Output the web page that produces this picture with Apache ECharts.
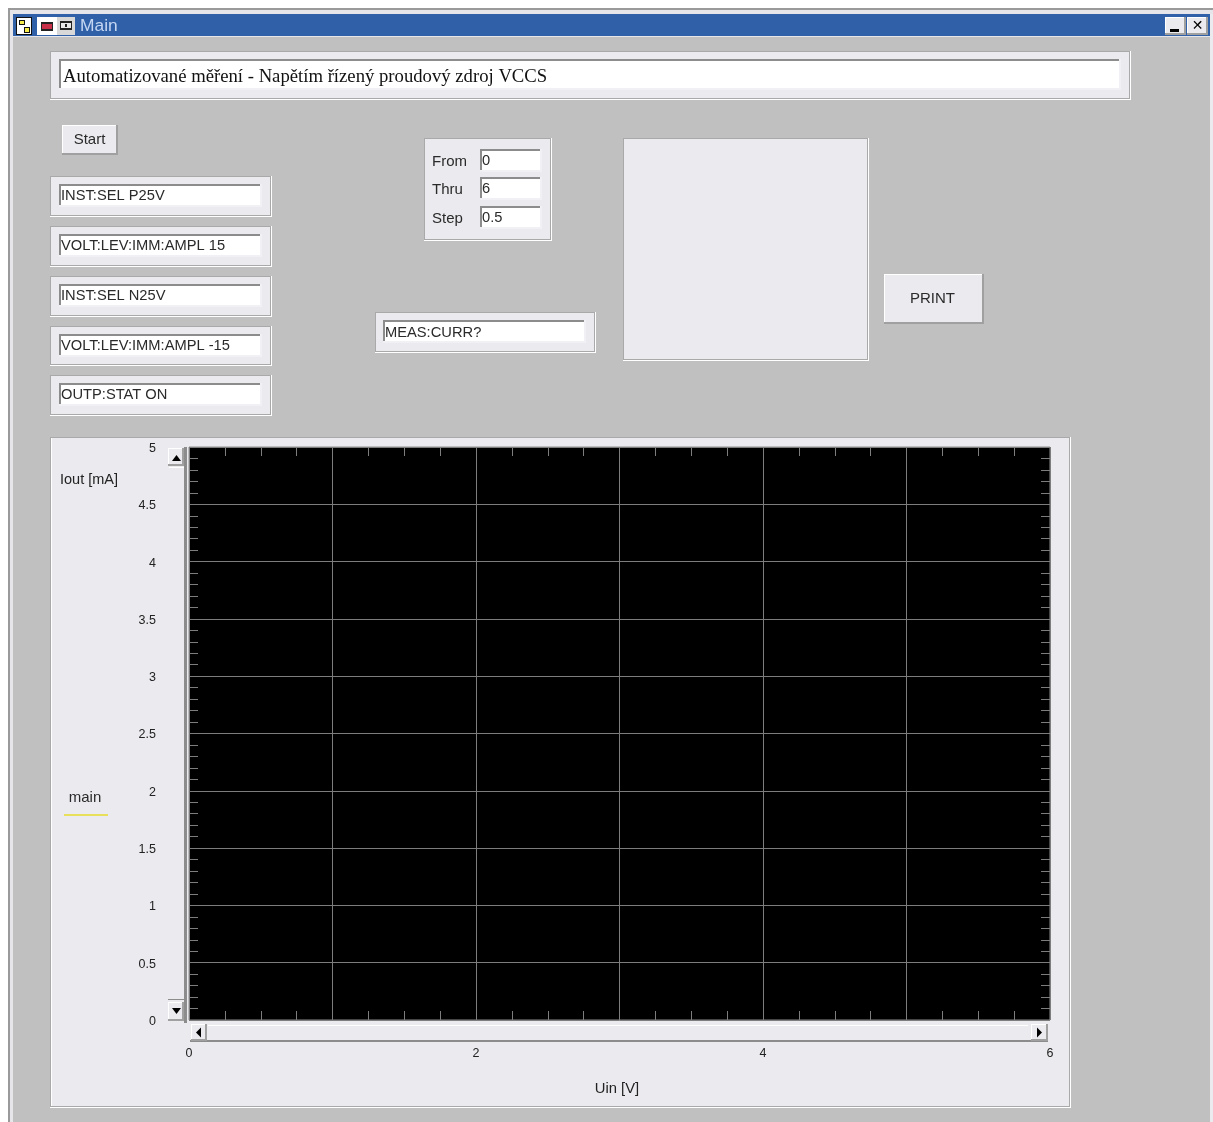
<!DOCTYPE html>
<html><head><meta charset="utf-8">
<style>html,body{margin:0;padding:0;background:#fff;overflow:hidden}#c{width:1213px;height:1122px}</style>
<script src="https://cdn.jsdelivr.net/npm/echarts@6/dist/echarts.min.js"></script>
</head><body><div id="c"></div>
<script>
const seriesName = 'main';
const seriesValues = [];
const xTickLabels = ['0','2','4','6'];
const yTickLabels = ['0','0.5','1','1.5','2','2.5','3','3.5','4','4.5','5'];
const windowTitle = 'Main';
const pageTitle = 'Automatizované měření - Napětím řízený proudový zdroj VCCS';
const commandFields = ['INST:SEL P25V','VOLT:LEV:IMM:AMPL 15','INST:SEL N25V','VOLT:LEV:IMM:AMPL -15','OUTP:STAT ON'];
const sweepLabels = ['From','Thru','Step'];
const sweepValues = ['0','6','0.5'];

const SANS = '"Liberation Sans", Arial, sans-serif';
const PANEL = '#ebeaef', BG = '#c0c0c0', DARK = '#8c8c8c', MID = '#a9a9a9';
const g = [];
const Z = -10;
function rect(x,y,w,h,fill){ g.push({type:'rect',silent:true,z:Z,shape:{x,y,width:w,height:h},style:{fill}}); }
function text(x,y,t,o={}){ g.push({type:'text',silent:true,z:Z,x,y:y+1.5,style:Object.assign({text:t,fill:'#2a2a2a',font:'14.7px '+SANS,textAlign:'left',textVerticalAlign:'middle'},o)}); }
function panel(x0,y0,x1,y1){
  rect(x0,y0,x1-x0+1,y1-y0+1,PANEL);
  rect(x0,y0,x1-x0+1,1,MID); rect(x0,y0,1,y1-y0+1,MID);
  rect(x0+1,y1-1,x1-x0,1,MID); rect(x1-1,y0+1,1,y1-y0,MID);
  rect(x0,y1,x1-x0+1,1,'#ffffff'); rect(x1,y0,1,y1-y0+1,'#ffffff');
}
function field(x0,y0,x1,y1,t,o,dx,dy){
  rect(x0,y0,x1-x0,y1-y0,'#ffffff');
  rect(x0,y0,x1-x0,2,DARK); rect(x0,y0,2,y1-y0,DARK);
  rect(x0,y1-2,x1-x0,2,'#f1f0f4'); rect(x1-2,y0,2,y1-y0,'#f1f0f4');
  if(t!==undefined) text(x0+(dx===undefined?2:dx),(y0+y1)/2-0.8+(dy||0),t,o);
}
function button(x0,y0,x1,y1){
  rect(x0,y0,x1-x0,y1-y0,PANEL);
  rect(x0,y0,x1-x0,1,'#ffffff'); rect(x0,y0,1,y1-y0,'#ffffff');
  rect(x0,y1-2,x1-x0,2,'#a0a0a0'); rect(x1-2,y0,2,y1-y0,'#a0a0a0');
}
function tri(pts,fill){ g.push({type:'polygon',silent:true,z:Z,shape:{points:pts},style:{fill}}); }

// window
rect(8,8,1205,1114,'#e6e6ea'); rect(8,8,1205,2,'#9a9a9a'); rect(8,8,2,1114,'#9a9a9a');
rect(13,36,1197,1086,BG); rect(1210,14,3,1108,'#ebeaef');
rect(13,14,1197,23,'#3060a8'); rect(13,36,1197,1,'#e6e6ea');
// title-bar icons
rect(16,17,16,18,'#111'); rect(17,18,14,16,'#ffffff'); rect(19,20,6,5,'#111'); rect(20,21,4,3,'#f6e94a'); rect(24,27,6,6,'#111'); rect(25,28,4,4,'#f6e94a');
rect(37,17,20,18,'#ffffff'); rect(41,22,12,9,'#222'); rect(42,24,10,5,'#c8304a');
rect(57,17,18,18,'#d8d8d8'); rect(60,21,12,9,'#222'); rect(61,23,10,5,'#e8e8e8'); rect(65,24,2,3,'#222');
text(80,24.5,windowTitle,{fill:'#c4d6f2',font:'17.4px '+SANS});
button(1165,17,1186,35); rect(1170,29,9,3,'#000');
button(1187,17,1208,35); text(1197.5,24.5,'✕',{fill:'#000',font:'bold 14px "DejaVu Sans"',textAlign:'center'});

// title field
panel(50,51,1130,99);
field(59,59,1121,90,pageTitle,{font:'18.7px "Liberation Serif", serif',fill:'#111'},4,1.5);
// Start
button(62,125,118,155); text(89.5,138,'Start',{textAlign:'center',font:'15px '+SANS});
// commands
[[176,216],[226,266],[276,316],[326,365],[375,415]].forEach((p,i)=>{
  panel(50,p[0],271,p[1]);
  field(59,p[0]+8,262,p[0]+31,commandFields[i]);
});
// sweep
panel(424,138,551,240);
[[149,172],[177,200],[206,229]].forEach((p,i)=>{
  text(432,(p[0]+p[1])/2-0.5,sweepLabels[i],{font:'15px '+SANS});
  field(480,p[0],542,p[1],sweepValues[i]);
});
panel(375,312,595,352); field(383,320,586,343,'MEAS:CURR?',undefined,2,1);
panel(623,138,868,360);
button(884,274,984,324); text(932.5,297,'PRINT',{textAlign:'center',font:'15px '+SANS});

// chart panel
panel(50,437,1070,1107);
rect(51,438,1,668,'#ffffff');
// vertical scrollbar
rect(168,450,18,572,PANEL);
rect(184,447,3,576,DARK);
button(168,448,184,466); tri([[172,461],[181,461],[176.5,455]],'#000');
rect(169,467,15,1,'#ffffff'); rect(168,999,16,1,DARK);
button(168,1002,184,1021); tri([[172,1008],[181,1008],[176.5,1014]],'#000');
// horizontal scrollbar
rect(190,1023,859,19,PANEL);
rect(190,1040,858,2,DARK);
rect(208,1025,820,1,'#ffffff');
button(191,1024,207,1041); tri([[201,1027.5],[201,1037.5],[196,1032.5]],'#000');
button(1031,1024,1048,1041); tri([[1037,1027.5],[1037,1037.5],[1042,1032.5]],'#000');
text(85,796,seriesName,{textAlign:'center',font:'15px '+SANS});

const GRID = '#7d7d7d';
const labelStyle = {color:'#222',fontSize:12.5,fontFamily:SANS};
const xLab = v => xTickLabels.includes(String(+v.toFixed(2))) ? String(+v.toFixed(2)) : '';
const yLab = v => yTickLabels.includes(String(+v.toFixed(2))) ? String(+v.toFixed(2)) : '';
const tick = {show:true,inside:true,length:9,lineStyle:{color:GRID,width:1}};
const line = {show:false,onZero:false};
const xBase = {type:'value',min:0,max:6,interval:1,axisLine:line,axisTick:tick,
  minorTick:{show:true,splitNumber:4,length:9,lineStyle:{color:GRID,width:1}},
  splitLine:{show:true,lineStyle:{color:GRID,width:1}},minorSplitLine:{show:false}};
const yBase = {type:'value',min:0,max:5,interval:0.5,axisLine:line,axisTick:tick,
  minorTick:{show:true,splitNumber:5,length:9,lineStyle:{color:GRID,width:1}},
  splitLine:{show:true,lineStyle:{color:GRID,width:1}},minorSplitLine:{show:false}};

const chart = echarts.init(document.getElementById('c'),null,{renderer:'canvas'});
chart.setOption({
  animation:false,
  backgroundColor:'#ffffff',
  grid:{show:true,left:189,top:447,width:861,height:573,backgroundColor:'#000',borderColor:'#8c8c8c',borderWidth:1,containLabel:false},
  legend:{show:true,left:64,top:814,icon:'rect',itemWidth:44,itemHeight:2,padding:0,formatter:()=>'',selectedMode:false,data:[seriesName]},
  graphic:{elements:g},
  xAxis:[
    Object.assign({},xBase,{position:'bottom',name:'Uin [V]',nameLocation:'middle',nameGap:61,
      nameTextStyle:{color:'#222',fontSize:14.8,fontFamily:SANS,padding:[0,5,0,0]},
      axisLabel:{...labelStyle,margin:27,formatter:xLab,showMinLabel:true,showMaxLabel:true,hideOverlap:false}}),
    Object.assign({},xBase,{position:'top',splitLine:{show:false},axisLabel:{show:false}})
  ],
  yAxis:[
    Object.assign({},yBase,{position:'left',name:'Iout [mA]',nameLocation:'end',nameRotate:0,nameGap:-40,
      nameTextStyle:{color:'#222',fontSize:14.5,fontFamily:SANS,align:'right',padding:[0,71,0,0]},
      axisLabel:{...labelStyle,margin:33,align:'right',verticalAlign:'top',lineHeight:3,formatter:yLab,showMinLabel:true,showMaxLabel:true,hideOverlap:false}}),
    Object.assign({},yBase,{position:'right',splitLine:{show:false},axisLabel:{show:false}})
  ],
  series:[{name:seriesName,type:'line',data:seriesValues,itemStyle:{color:'#e8e05a'},lineStyle:{color:'#e8e05a'},showSymbol:false}]
});
</script></body></html>
